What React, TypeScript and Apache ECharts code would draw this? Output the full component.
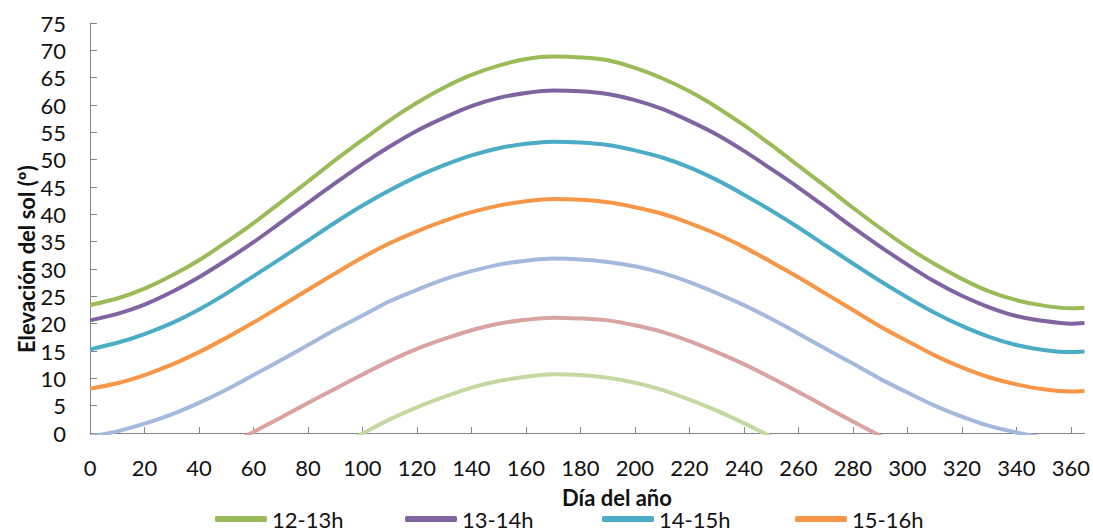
import React, { useEffect, useRef } from "react";
import * as echarts from "echarts";

const days = [0, 10, 20, 30, 40, 50, 60, 70, 80, 90, 100, 110, 120, 130, 140, 150, 160, 170, 180, 190, 200, 210, 220, 230, 240, 250, 260, 270, 280, 290, 300, 310, 320, 330, 340, 350, 360, 365];

const seriesNames = ["12-13h", "13-14h", "14-15h", "15-16h", "16-17h", "17-18h", "18-19h"];

const h12_13 = [23.4, 24.6, 26.4, 28.8, 31.6, 34.9, 38.4, 42.2, 46.0, 49.9, 53.6, 57.2, 60.4, 63.2, 65.5, 67.2, 68.4, 68.85, 68.7, 68.2, 66.8, 64.9, 62.5, 59.6, 56.3, 52.7, 48.9, 45.1, 41.2, 37.5, 34.0, 30.9, 28.2, 25.9, 24.3, 23.3, 22.8, 22.9];
const h13_14 = [20.6, 21.8, 23.5, 25.8, 28.5, 31.6, 34.9, 38.5, 42.1, 45.7, 49.2, 52.4, 55.3, 57.7, 59.8, 61.3, 62.2, 62.65, 62.5, 62.0, 60.9, 59.3, 57.1, 54.6, 51.6, 48.3, 44.9, 41.3, 37.6, 34.1, 30.8, 27.7, 25.1, 23.0, 21.4, 20.5, 20.0, 20.1];
const h14_15 = [15.3, 16.5, 18.1, 20.1, 22.6, 25.5, 28.7, 31.9, 35.2, 38.5, 41.6, 44.4, 46.9, 49.0, 50.8, 52.1, 52.9, 53.3, 53.15, 52.7, 51.7, 50.4, 48.6, 46.3, 43.6, 40.7, 37.6, 34.3, 31.0, 27.8, 24.8, 22.0, 19.6, 17.6, 16.1, 15.2, 14.8, 14.9];
const h15_16 = [8.1, 9.1, 10.6, 12.5, 14.8, 17.4, 20.2, 23.2, 26.2, 29.2, 32.1, 34.7, 36.9, 38.8, 40.4, 41.6, 42.4, 42.8, 42.65, 42.2, 41.3, 40.1, 38.4, 36.4, 34.0, 31.3, 28.5, 25.5, 22.5, 19.5, 16.8, 14.2, 12.0, 10.2, 8.9, 8.0, 7.6, 7.7];
const h16_17 = [-0.6, 0.3, 1.7, 3.4, 5.5, 7.9, 10.6, 13.3, 16.1, 18.9, 21.5, 24.1, 26.2, 28.1, 29.6, 30.8, 31.5, 31.9, 31.75, 31.3, 30.5, 29.3, 27.6, 25.6, 23.4, 20.9, 18.2, 15.4, 12.7, 9.9, 7.4, 5.0, 3.0, 1.3, 0.1, -0.8, -1.1, -1.0];
const h17_18 = [-10.3, -9.5, -8.3, -6.6, -4.6, -2.4, 0.2, 2.8, 5.5, 8.1, 10.7, 13.2, 15.4, 17.2, 18.8, 20.0, 20.7, 21.1, 20.95, 20.6, 19.7, 18.5, 16.8, 14.8, 12.6, 10.1, 7.5, 4.8, 2.1, -0.5, -2.9, -5.1, -7.0, -8.6, -9.7, -10.4, -10.7, -10.7];
const h18_19 = [-20.7, -19.9, -18.8, -17.2, -15.3, -13.1, -10.7, -8.1, -5.4, -2.7, -0.1, 2.5, 4.7, 6.6, 8.3, 9.5, 10.3, 10.75, 10.6, 10.1, 9.2, 7.9, 6.1, 4.1, 1.8, -0.7, -3.4, -6.1, -8.7, -11.3, -13.6, -15.8, -17.6, -19.0, -20.1, -20.8, -21.1, -21.1];

const allValues = [h12_13, h13_14, h14_15, h15_16, h16_17, h17_18, h18_19];
const colors = ["#9BBB59", "#8064A2", "#4BACC6", "#F79646", "#A3BADC", "#D9A3A1", "#C4D8A2"];

const legendLefts = [215, 405, 602, 795];

export default function App() {
  const ref = useRef<HTMLDivElement>(null);
  useEffect(() => {
    const chart = echarts.init(ref.current!, null, { renderer: "svg" });
    const font = "Lato, 'Noto Sans', sans-serif";
    chart.setOption({
      animation: false,
      backgroundColor: "#ffffff",
      textStyle: { fontFamily: font },
      grid: { left: 90, top: 23, right: 8, bottom: 98, containLabel: false },
      xAxis: {
        type: "value",
        min: 0,
        max: 365,
        interval: 20,
        axisLine: { show: true, lineStyle: { color: "#868686", width: 1 } },
        axisTick: { show: true, inside: true, length: 6, lineStyle: { color: "#868686" } },
        splitLine: { show: false },
        axisLabel: { show: true, showMaxLabel: false, margin: 23, fontSize: 22, color: "#111", fontFamily: font },
      },
      yAxis: {
        type: "value",
        min: 0,
        max: 75,
        interval: 5,
        axisLine: { show: true, lineStyle: { color: "#868686", width: 1 } },
        axisTick: { show: true, inside: true, length: 7, lineStyle: { color: "#868686" } },
        splitLine: { show: false },
        axisLabel: { margin: 24, fontSize: 22, color: "#111", fontFamily: font },
      },
      legend: seriesNames.slice(0, 4).map((name, i) => ({
        data: [name],
        left: legendLefts[i],
        top: 508,
        padding: 0,
        itemWidth: 52,
        itemHeight: 6,
        itemGap: 0,
        icon: "roundRect",
        textStyle: { fontSize: 22, color: "#111", fontFamily: font, padding: [0, 0, 0, 0] },
      })),
      graphic: [
        {
          type: "text",
          left: 562,
          top: 486,
          style: { text: "Día del año", font: `bold 22px ${font}`, fill: "#111" },
        },
        {
          type: "text",
          x: 15,
          y: 353,
          rotation: Math.PI / 2,
          style: { text: "Elevación del sol (º)", font: `bold 22px ${font}`, fill: "#111", textAlign: "left", textVerticalAlign: "top" },
        },
      ],
      series: allValues.map((vals, i) => ({
        name: seriesNames[i],
        type: "line",
        data: days.map((d, j) => [d, vals[j]]),
        smooth: 0.3,
        showSymbol: false,
        symbol: "none",
        clip: true,
        z: 10 - i,
        lineStyle: { color: colors[i], width: 4 },
        itemStyle: { color: colors[i] },
      })),
    });
    return () => chart.dispose();
  }, []);
  return <div ref={ref} style={{ position: "fixed", left: 0, top: 0, width: 1093, height: 531 }} />;
}
